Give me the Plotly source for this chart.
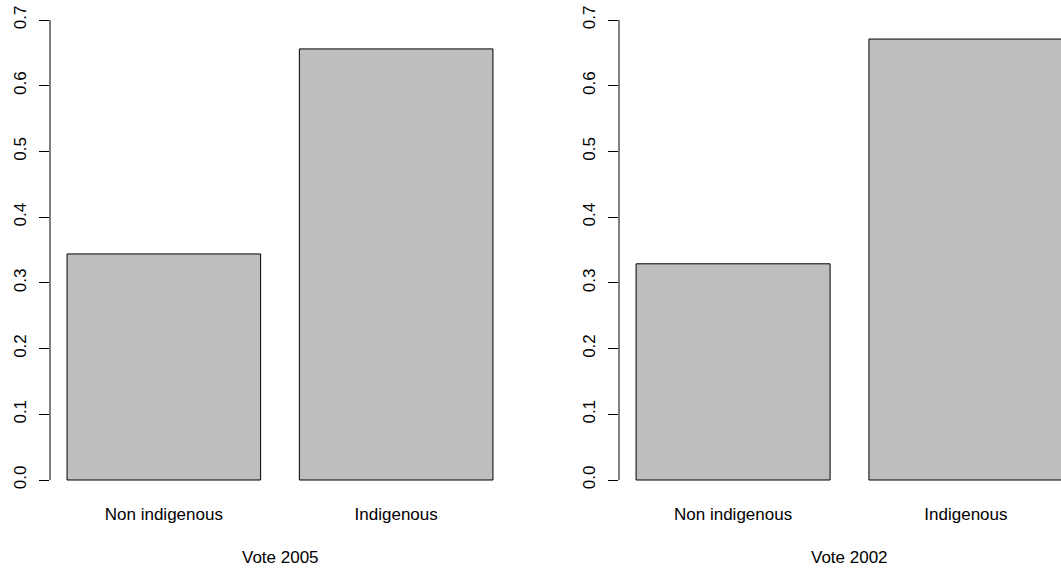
import plotly.graph_objects as go

categories = ["Non indigenous", "Indigenous"]
vote_2005 = [0.344, 0.656]
vote_2002 = [0.329, 0.671]
panel_titles = ["Vote 2005", "Vote 2002"]
y_ticks = [0.0, 0.1, 0.2, 0.3, 0.4, 0.5, 0.6, 0.7]
y_ticktext = ["0.0", "0.1", "0.2", "0.3", "0.4", "0.5", "0.6", "0.7"]
bar_pos = [0.7, 1.9]

W, H = 1061, 574
FONT = dict(family="Liberation Sans, Arial, sans-serif", size=17, color="black")
GRAY = "#BEBEBE"

fig = go.Figure()
fig.add_trace(go.Bar(x=bar_pos, y=vote_2005, width=1.0, marker=dict(color=GRAY, line=dict(color="black", width=1)),
                     xaxis="x", yaxis="y", showlegend=False))
fig.add_trace(go.Bar(x=bar_pos, y=vote_2002, width=1.0, marker=dict(color=GRAY, line=dict(color="black", width=1)),
                     xaxis="x2", yaxis="y2", showlegend=False))

ydom = [(H - 498.4) / H, (H - 1.6) / H]
xdom1 = [50 / W, 510 / W]
xdom2 = [619 / W, 1.0]

common_x = dict(tickvals=bar_pos, ticktext=categories, ticks="", showline=False, showgrid=False,
                zeroline=False, tickfont=FONT, fixedrange=True, ticklabelstandoff=4)
common_y = dict(range=[-0.028, 0.728], tickvals=y_ticks, ticktext=y_ticktext, ticks="outside", ticklen=10,
                tickcolor="black", tickwidth=1, showline=False, showgrid=False, zeroline=False,
                tickangle=-90, tickfont=FONT, fixedrange=True, ticklabelstandoff=6)

fig.update_layout(
    width=W, height=H,
    margin=dict(l=0, r=0, t=0, b=0),
    paper_bgcolor="white", plot_bgcolor="white",
    font=FONT,
    xaxis=dict(domain=xdom1, range=[0.112, 2.488], anchor="y", **common_x),
    yaxis=dict(domain=ydom, anchor="x", **common_y),
    xaxis2=dict(domain=xdom2, range=[0.112, 2.390], anchor="y2", **common_x),
    yaxis2=dict(domain=ydom, anchor="x2", **common_y),
)

for xr, yr in [("x domain", "y"), ("x2 domain", "y2")]:
    fig.add_shape(type="line", xref=xr, yref=yr, x0=0, x1=0, y0=y_ticks[0], y1=y_ticks[-1],
                  line=dict(color="black", width=1))

for i, t in enumerate(panel_titles):
    xr = "x domain" if i == 0 else "x2 domain"
    xc = 0.5 if i == 0 else 0.5 * (1079 - 619) / (1061 - 619)
    fig.add_annotation(text=t, xref=xr, yref="paper", x=xc, y=(H - 557) / H, showarrow=False,
                       font=FONT, xanchor="center", yanchor="middle")

fig.write_html("out.html", config={"displayModeBar": False},
               post_script="document.body.style.margin='0';document.body.style.overflow='hidden';")
